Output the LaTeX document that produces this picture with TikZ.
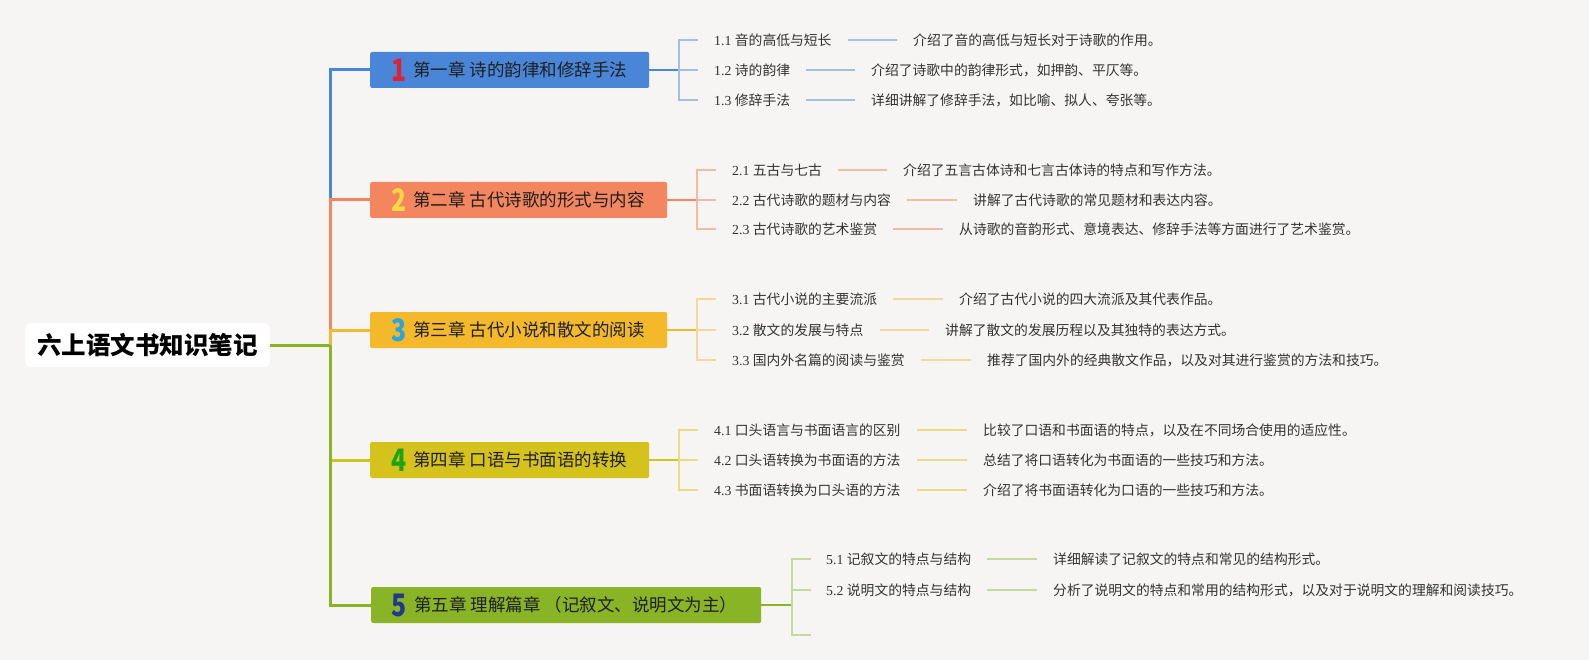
\documentclass[tikz,border=0pt]{standalone}
\usepackage{fontspec}
\setmainfont{Noto Sans CJK SC}
\newfontfamily\serifnum{Liberation Serif}
\definecolor{bg}{HTML}{F6F5F3}
\definecolor{cA}{HTML}{4A86D8}
\definecolor{cB}{HTML}{F4865F}
\definecolor{cC}{HTML}{F4B92B}
\definecolor{cD}{HTML}{D6C21C}
\definecolor{cE}{HTML}{88B425}
\definecolor{lA}{HTML}{A3BFE2}
\definecolor{lB}{HTML}{F2BBA6}
\definecolor{lC}{HTML}{F4D89A}
\definecolor{lD}{HTML}{EBDB86}
\definecolor{lE}{HTML}{C4DA9C}
\definecolor{nA}{HTML}{D8233B}
\definecolor{nB}{HTML}{F7D842}
\definecolor{nC}{HTML}{2AA5E0}
\definecolor{nD}{HTML}{1FA316}
\definecolor{nE}{HTML}{22378E}
\definecolor{txt}{HTML}{333333}
\begin{document}
\begin{tikzpicture}[x=1pt,y=-1pt,
  rootbox/.style={fill=white, rounded corners=6pt, minimum width=245pt, minimum height=44pt, inner sep=0pt, font=\fontsize{24.5pt}{28pt}\selectfont\bfseries, text=black},
  chap/.style={rounded corners=2pt, minimum height=36pt, inner sep=0pt, anchor=west},
  numlbl/.style={inner sep=0pt, font=\bfseries\fontsize{31pt}{34pt}\selectfont},
  ttl/.style={inner sep=0pt, anchor=west, font=\fontsize{17.5pt}{20pt}\selectfont, text=black!88},
  sub/.style={inner sep=0pt, anchor=west, font=\fontsize{13.8pt}{16pt}\selectfont, text=txt},
  trunk/.style={line width=3pt},
  feed/.style={line width=2pt},
  tick/.style={line width=1.5pt, shorten >=16pt},
  link/.style={line width=1.5pt, shorten <=16pt, shorten >=16pt}
]
\useasboundingbox (0,0) rectangle (1589,660);
\fill[bg] (0,0) rectangle (1589,660);

% root
\node[rootbox] (root) at (147.5,345) {六上语文书知识笔记};
\coordinate (j) at (330,345);

% chapter boxes
\node[chap, fill=cA, minimum width=279pt] (c1) at (370,70) {};
\node[chap, fill=cB, minimum width=297pt] (c2) at (370,200) {};
\node[chap, fill=cC, minimum width=297pt] (c3) at (370,330) {};
\node[chap, fill=cD, minimum width=279pt] (c4) at (370,460) {};
\node[chap, fill=cE, minimum width=390pt] (c5) at (371,605) {};

\node[numlbl, text=nA] (n1) at ([xshift=29pt]c1.west) {\scalebox{0.8}[1]{1}};
\node[numlbl, text=nB] (n2) at ([xshift=29pt]c2.west) {\scalebox{0.8}[1]{2}};
\node[numlbl, text=nC] (n3) at ([xshift=29pt]c3.west) {\scalebox{0.8}[1]{3}};
\node[numlbl, text=nD] (n4) at ([xshift=29pt]c4.west) {\scalebox{0.8}[1]{4}};
\node[numlbl, text=nE] (n5) at ([xshift=28pt]c5.west) {\scalebox{0.8}[1]{5}};

\node[ttl] (t1) at ([xshift=43pt]c1.west) {第一章 诗的韵律和修辞手法};
\node[ttl] (t2) at ([xshift=43pt]c2.west) {第二章 古代诗歌的形式与内容};
\node[ttl] (t3) at ([xshift=43pt]c3.west) {第三章 古代小说和散文的阅读};
\node[ttl] (t4) at ([xshift=43pt]c4.west) {第四章 口语与书面语的转换};
\node[ttl] (t5) at ([xshift=43pt]c5.west) {第五章 理解篇章 （记叙文、说明文为主）};

% trunk
\draw[trunk, cA] (j) |- (c1.west);
\draw[trunk, cB] (j) |- (c2.west);
\draw[trunk, cC] (j) |- (c3.west);
\draw[trunk, cD] (j) |- (c4.west);
\draw[trunk, cE] (j) |- (c5.west);
\draw[trunk, cE] (root.east) -- (j);

% bracket junctions
\coordinate (b1) at (679,70);
\coordinate (b2) at (697,200);
\coordinate (b3) at (697,330);
\coordinate (b4) at (679,460);
\coordinate (b5) at (792,605);

% sub items
\node[sub] (s11) at (714,40) {{\serifnum 1.1 }音的高低与短长};
\node[sub] (d11) at (913,40) {介绍了音的高低与短长对于诗歌的作用。};
\node[sub] (s12) at (714,70) {{\serifnum 1.2 }诗的韵律};
\node[sub] (d12) at (871,70) {介绍了诗歌中的韵律形式，如押韵、平仄等。};
\node[sub] (s13) at (714,100) {{\serifnum 1.3 }修辞手法};
\node[sub] (d13) at (871,100) {详细讲解了修辞手法，如比喻、拟人、夸张等。};

\node[sub] (s21) at (732,170) {{\serifnum 2.1 }五古与七古};
\node[sub] (d21) at (903,170) {介绍了五言古体诗和七言古体诗的特点和写作方法。};
\node[sub] (s22) at (732,200) {{\serifnum 2.2 }古代诗歌的题材与内容};
\node[sub] (d22) at (973,200) {讲解了古代诗歌的常见题材和表达内容。};
\node[sub] (s23) at (732,229) {{\serifnum 2.3 }古代诗歌的艺术鉴赏};
\node[sub] (d23) at (959,229) {从诗歌的音韵形式、意境表达、修辞手法等方面进行了艺术鉴赏。};

\node[sub] (s31) at (732,299) {{\serifnum 3.1 }古代小说的主要流派};
\node[sub] (d31) at (959,299) {介绍了古代小说的四大流派及其代表作品。};
\node[sub] (s32) at (732,330) {{\serifnum 3.2 }散文的发展与特点};
\node[sub] (d32) at (945,330) {讲解了散文的发展历程以及其独特的表达方式。};
\node[sub] (s33) at (732,360) {{\serifnum 3.3 }国内外名篇的阅读与鉴赏};
\node[sub] (d33) at (987,360) {推荐了国内外的经典散文作品，以及对其进行鉴赏的方法和技巧。};

\node[sub] (s41) at (714,430) {{\serifnum 4.1 }口头语言与书面语言的区别};
\node[sub] (d41) at (983,430) {比较了口语和书面语的特点，以及在不同场合使用的适应性。};
\node[sub] (s42) at (714,460) {{\serifnum 4.2 }口头语转换为书面语的方法};
\node[sub] (d42) at (983,460) {总结了将口语转化为书面语的一些技巧和方法。};
\node[sub] (s43) at (714,490) {{\serifnum 4.3 }书面语转换为口头语的方法};
\node[sub] (d43) at (983,490) {介绍了将书面语转化为口语的一些技巧和方法。};

\node[sub] (s51) at (826,559) {{\serifnum 5.1 }记叙文的特点与结构};
\node[sub] (d51) at (1053,559) {详细解读了记叙文的特点和常见的结构形式。};
\node[sub] (s52) at (826,590) {{\serifnum 5.2 }说明文的特点与结构};
\node[sub] (d52) at (1053,590) {分析了说明文的特点和常用的结构形式，以及对于说明文的理解和阅读技巧。};
\coordinate (s53) at (826,635);

% feeders from chapter boxes to brackets
\draw[feed, cA] (c1.east) -- (b1);
\draw[feed, cB] (c2.east) -- (b2);
\draw[feed, cC] (c3.east) -- (b3);
\draw[feed, cD] (c4.east) -- (b4);
\draw[feed, cE] (c5.east) -- (b5);

% brackets / ticks
\foreach \b/\s/\c in {b1/s11/lA,b1/s12/lA,b1/s13/lA,
                      b2/s21/lB,b2/s22/lB,b2/s23/lB,
                      b3/s31/lC,b3/s32/lC,b3/s33/lC,
                      b4/s41/lD,b4/s42/lD,b4/s43/lD}
  \draw[tick, \c] (\b) |- (\s.west);
\draw[tick, lE, shorten >=15pt] (b5) |- (s51.west);
\draw[tick, lE, shorten >=15pt] (b5) |- (s52.west);
\draw[tick, lE, shorten >=15pt] (b5) |- (s53);

% links label -> description
\foreach \s/\d/\c in {s11/d11/lA,s12/d12/lA,s13/d13/lA,
                      s21/d21/lB,s22/d22/lB,s23/d23/lB,
                      s31/d31/lC,s32/d32/lC,s33/d33/lC,
                      s41/d41/lD,s42/d42/lD,s43/d43/lD,
                      s51/d51/lE,s52/d52/lE}
  \draw[link, \c] (\s.east) -- (\d.west);
\end{tikzpicture}
\end{document}
